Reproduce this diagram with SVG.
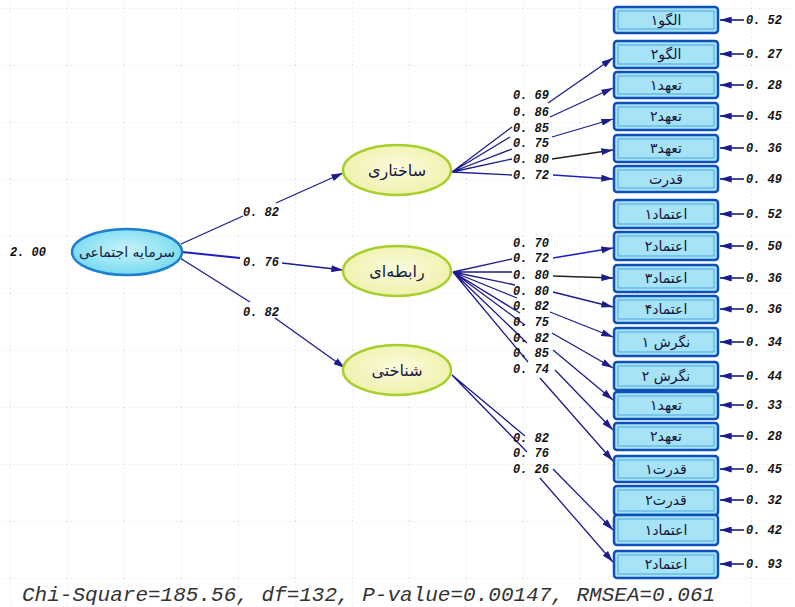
<svg xmlns="http://www.w3.org/2000/svg" width="795" height="607" viewBox="0 0 795 607">
<defs>
<marker id="ah" viewBox="0 0 10 6" refX="10" refY="3" markerWidth="12" markerHeight="7" markerUnits="userSpaceOnUse" orient="auto"><path d="M0,0 L10,3 L0,6 z" fill="#1c1c8c"/></marker>
<pattern id="grid" width="57" height="57" patternUnits="userSpaceOnUse" x="10" y="8">
<path d="M0,0.5 H57 M0.5,0 V57" stroke="#e4e4e4" stroke-width="1" stroke-dasharray="1 3" fill="none"/>
</pattern>
<radialGradient id="cy" cx="50%" cy="45%" r="60%"><stop offset="0" stop-color="#c8f4fb"/><stop offset="1" stop-color="#6fd8ef"/></radialGradient>
<radialGradient id="yl" cx="50%" cy="45%" r="60%"><stop offset="0" stop-color="#fbfbdc"/><stop offset="1" stop-color="#eef0a8"/></radialGradient>
</defs>
<style>
.c{fill:none;stroke:#1c1c8c;stroke-width:1.3}
.a{marker-end:url(#ah)}
.e{fill:none;stroke:#1c1c8c;stroke-width:1.6;marker-end:url(#ah)}
.n{font-family:"Liberation Mono",monospace;font-style:italic;font-size:12px;fill:#111;font-weight:bold}
.box{fill:#a6e3f6;stroke:#0f50b8;stroke-width:2.5}
.inb{fill:none;stroke:#4aa6e2;stroke-width:1}
.bt{font-family:"DejaVu Sans",sans-serif;font-size:14px;fill:#14143a;text-anchor:middle}
.et{font-family:"DejaVu Sans",sans-serif;font-size:16px;fill:#1a1a40;text-anchor:middle}
.ey{fill:url(#yl);stroke:#a6cf2a;stroke-width:2.5}
</style>
<rect width="795" height="607" fill="#fff"/>
<rect width="795" height="607" fill="url(#grid)"/>

<g id="connectors">
<path class="c" d="M181,244 L243,216"/>
<path class="c a" d="M276,203 L343,173"/>
<path class="c" d="M182,252 L240,258" style="stroke:#2020c0;stroke-width:2"/>
<path class="c a" d="M282,263 L343,270"/>
<path class="c" d="M180,258 L250,302"/>
<path class="c a" d="M275,318 L345,368"/>
<path class="c" d="M452,172 L512,127 M452,172 L510,137 M452,172 L512,149 M452,172 L512,159 M452,172 L512,175"/>
<path class="c a" d="M548,103 L613,58"/>
<path class="c a" d="M550,117 L613,88"/>
<path class="c a" d="M552,137 L613,119"/>
<path class="c a" d="M552,159 L613,150" style="stroke:#222"/>
<path class="c a" d="M553,175 L613,179" style="stroke:#2020c0;stroke-width:1.6"/>
<path class="c" d="M453,272 L512,259 M453,272 L512,272 M453,272 L515,285 M453,272 L517,298 M453,272 L520,313 M453,272 L525,325 M453,272 L527,343 M453,272 L528,362"/>
<path class="c a" d="M553,258 L613,248" style="stroke:#2020c0;stroke-width:1.6"/>
<path class="c a" d="M553,276 L613,278" style="stroke:#222"/>
<path class="c a" d="M553,292 L613,307"/>
<path class="c a" d="M550,312 L613,337"/>
<path class="c a" d="M552,333 L613,368"/>
<path class="c a" d="M553,350 L613,400"/>
<path class="c a" d="M555,370 L613,430"/>
<path class="c a" d="M540,378 L613,461"/>
<path class="c" d="M452,375 L525,436 M452,375 L527,452"/>
<path class="c a" d="M553,469 L613,530"/>
<path class="c a" d="M540,478 L613,562"/>
<path class="e" d="M744,20 L720,20"/>
<path class="e" d="M744,54 L720,54"/>
<path class="e" d="M744,85 L720,85"/>
<path class="e" d="M744,116 L720,116"/>
<path class="e" d="M744,148 L720,148"/>
<path class="e" d="M744,179 L720,179"/>
<path class="e" d="M744,214 L720,214"/>
<path class="e" d="M744,246 L720,246"/>
<path class="e" d="M744,278 L720,278"/>
<path class="e" d="M744,309 L720,309"/>
<path class="e" d="M744,342 L720,342"/>
<path class="e" d="M744,376 L720,376"/>
<path class="e" d="M744,405 L720,405"/>
<path class="e" d="M744,436 L720,436"/>
<path class="e" d="M744,469 L720,469"/>
<path class="e" d="M744,500 L720,500"/>
<path class="e" d="M744,530 L720,530"/>
<path class="e" d="M744,564 L720,564"/>
</g>

<g id="path-labels">
<text class="n" x="243" y="216">0. 82</text>
<text class="n" x="243" y="266">0. 76</text>
<text class="n" x="243" y="316">0. 82</text>
<text class="n" x="513" y="99">0. 69</text>
<text class="n" x="513" y="116">0. 86</text>
<text class="n" x="513" y="132">0. 85</text>
<text class="n" x="513" y="147">0. 75</text>
<text class="n" x="513" y="163">0. 80</text>
<text class="n" x="513" y="179">0. 72</text>
<text class="n" x="513" y="247">0. 70</text>
<text class="n" x="513" y="262">0. 72</text>
<text class="n" x="513" y="279">0. 80</text>
<text class="n" x="513" y="295">0. 80</text>
<text class="n" x="513" y="310">0. 82</text>
<text class="n" x="513" y="326">0. 75</text>
<text class="n" x="513" y="342">0. 82</text>
<text class="n" x="513" y="357">0. 85</text>
<text class="n" x="513" y="373">0. 74</text>
<text class="n" x="513" y="442">0. 82</text>
<text class="n" x="513" y="457">0. 76</text>
<text class="n" x="513" y="473">0. 26</text>
<text class="n" x="10" y="256">2. 00</text>
</g>

<g id="error-labels">
<text class="n" x="746" y="24">0. 52</text>
<text class="n" x="746" y="58">0. 27</text>
<text class="n" x="746" y="89">0. 28</text>
<text class="n" x="746" y="120">0. 45</text>
<text class="n" x="746" y="152">0. 36</text>
<text class="n" x="746" y="183">0. 49</text>
<text class="n" x="746" y="218">0. 52</text>
<text class="n" x="746" y="250">0. 50</text>
<text class="n" x="746" y="282">0. 36</text>
<text class="n" x="746" y="313">0. 36</text>
<text class="n" x="746" y="346">0. 34</text>
<text class="n" x="746" y="380">0. 44</text>
<text class="n" x="746" y="409">0. 33</text>
<text class="n" x="746" y="440">0. 28</text>
<text class="n" x="746" y="473">0. 45</text>
<text class="n" x="746" y="504">0. 32</text>
<text class="n" x="746" y="534">0. 42</text>
<text class="n" x="746" y="568">0. 93</text>
</g>

<g id="social-capital">
<ellipse cx="127" cy="252" rx="55" ry="23" fill="url(#cy)" stroke="#1f7fd0" stroke-width="2.5"/>
<text class="et" x="127" y="257" style="font-size:14px">سرمایه اجتماعی</text>
</g>
<g id="structural">
<ellipse class="ey" cx="397" cy="170" rx="54" ry="25"/>
<text class="et" x="397" y="176">ساختاری</text>
</g>
<g id="relational">
<ellipse class="ey" cx="397" cy="271" rx="54" ry="25"/>
<text class="et" x="397" y="277">رابطه‌ای</text>
</g>
<g id="cognitive">
<ellipse class="ey" cx="397" cy="370" rx="54" ry="25"/>
<text class="et" x="397" y="376">شناختی</text>
</g>

<g id="box1"><rect class="box" x="614" y="7" width="104" height="26" rx="3"/><rect class="inb" x="618" y="11" width="96" height="18"/><text class="bt" x="666" y="25">الگو۱</text></g>
<g id="box2"><rect class="box" x="614" y="41" width="104" height="27" rx="3"/><rect class="inb" x="618" y="45" width="96" height="19"/><text class="bt" x="666" y="59">الگو۲</text></g>
<g id="box3"><rect class="box" x="614" y="72" width="104" height="26" rx="3"/><rect class="inb" x="618" y="76" width="96" height="18"/><text class="bt" x="666" y="90">تعهد۱</text></g>
<g id="box4"><rect class="box" x="614" y="103" width="104" height="27" rx="3"/><rect class="inb" x="618" y="107" width="96" height="19"/><text class="bt" x="666" y="121">تعهد۲</text></g>
<g id="box5"><rect class="box" x="614" y="135" width="104" height="27" rx="3"/><rect class="inb" x="618" y="139" width="96" height="19"/><text class="bt" x="666" y="153">تعهد۳</text></g>
<g id="box6"><rect class="box" x="614" y="166" width="104" height="26" rx="3"/><rect class="inb" x="618" y="170" width="96" height="18"/><text class="bt" x="666" y="184">قدرت</text></g>
<g id="box7"><rect class="box" x="614" y="200" width="104" height="28" rx="3"/><rect class="inb" x="618" y="204" width="96" height="20"/><text class="bt" x="666" y="219">اعتماد۱</text></g>
<g id="box8"><rect class="box" x="614" y="232" width="104" height="28" rx="3"/><rect class="inb" x="618" y="236" width="96" height="20"/><text class="bt" x="666" y="251">اعتماد۲</text></g>
<g id="box9"><rect class="box" x="614" y="265" width="104" height="27" rx="3"/><rect class="inb" x="618" y="269" width="96" height="19"/><text class="bt" x="666" y="283">اعتماد۳</text></g>
<g id="box10"><rect class="box" x="614" y="296" width="104" height="27" rx="3"/><rect class="inb" x="618" y="300" width="96" height="19"/><text class="bt" x="666" y="314">اعتماد۴</text></g>
<g id="box11"><rect class="box" x="614" y="328" width="104" height="28" rx="3"/><rect class="inb" x="618" y="332" width="96" height="20"/><text class="bt" x="666" y="347">نگرش ۱</text></g>
<g id="box12"><rect class="box" x="614" y="362" width="104" height="28" rx="3"/><rect class="inb" x="618" y="366" width="96" height="20"/><text class="bt" x="666" y="381">نگرش ۲</text></g>
<g id="box13"><rect class="box" x="614" y="392" width="104" height="27" rx="3"/><rect class="inb" x="618" y="396" width="96" height="19"/><text class="bt" x="666" y="410">تعهد۱</text></g>
<g id="box14"><rect class="box" x="614" y="423" width="104" height="27" rx="3"/><rect class="inb" x="618" y="427" width="96" height="19"/><text class="bt" x="666" y="441">تعهد۲</text></g>
<g id="box15"><rect class="box" x="614" y="456" width="104" height="26" rx="3"/><rect class="inb" x="618" y="460" width="96" height="18"/><text class="bt" x="666" y="474">قدرت۱</text></g>
<g id="box16"><rect class="box" x="614" y="486" width="104" height="29" rx="3"/><rect class="inb" x="618" y="490" width="96" height="21"/><text class="bt" x="666" y="505">قدرت۲</text></g>
<g id="box17"><rect class="box" x="614" y="515" width="104" height="30" rx="3"/><rect class="inb" x="618" y="519" width="96" height="22"/><text class="bt" x="666" y="535">اعتماد۱</text></g>
<g id="box18"><rect class="box" x="614" y="551" width="104" height="27" rx="3"/><rect class="inb" x="618" y="555" width="96" height="19"/><text class="bt" x="666" y="569">اعتماد۲</text></g>

<text x="22" y="601" font-family="Liberation Mono, monospace" font-style="italic" font-size="21" fill="#333">Chi-Square=185.56, df=132, P-value=0.00147, RMSEA=0.061</text>
</svg>
